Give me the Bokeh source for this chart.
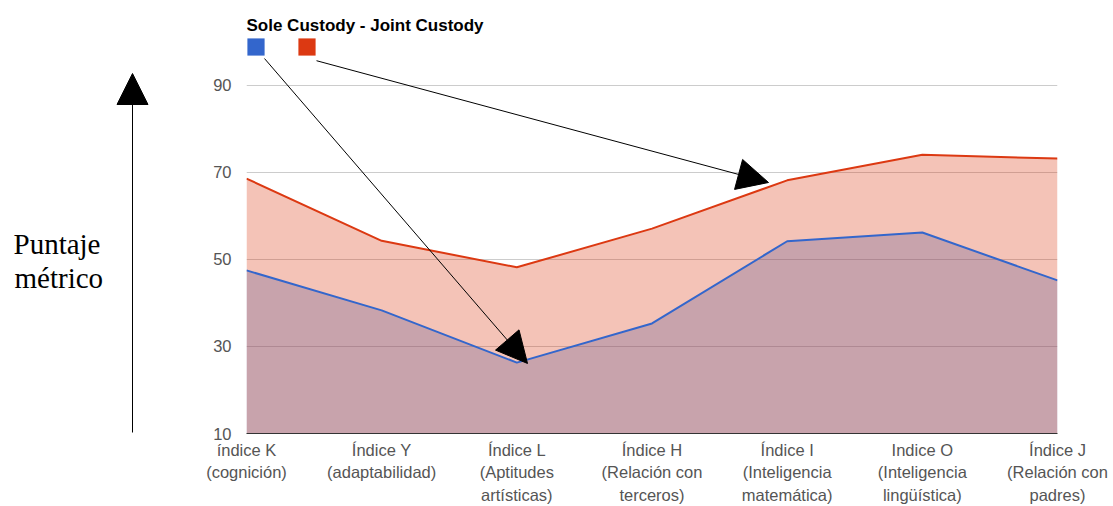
from bokeh.plotting import figure
from bokeh.layouts import row
from bokeh.models import Arrow, NormalHead, Label, Legend, LegendItem, FixedTicker, Range1d
from bokeh.embed import file_html
from bokeh.resources import INLINE

# ---- data ----
categories = [
    "índice K\n(cognición)",
    "Índice Y\n(adaptabilidad)",
    "Índice L\n(Aptitudes\nartísticas)",
    "Índice H\n(Relación con\nterceros)",
    "Índice I\n(Inteligencia\nmatemática)",
    "Indice O\n(Inteligencia\nlingüística)",
    "Índice J\n(Relación con\npadres)",
]
sole_custody = [47.5, 38.3, 26.3, 35.3, 54.2, 56.2, 45.2]
joint_custody = [68.6, 54.3, 48.2, 57.1, 68.2, 74.1, 73.2]
y_ticks = [10, 30, 50, 70, 90]
title_text = "Sole Custody - Joint Custody"
axis_title_lines = ["Puntaje", "métrico"]

BLUE = "#3366CC"
RED = "#DC3912"
xs = list(range(len(categories)))
baseline = y_ticks[0]

TOTAL_W, TOTAL_H = 1113, 506
LEFT_W = 160
FRAME_BOTTOM = 433

# ---------- left panel: axis caption + vertical arrow ----------
left = figure(width=LEFT_W, height=TOTAL_H, x_range=Range1d(0, LEFT_W), y_range=Range1d(FRAME_BOTTOM, 0),
              x_axis_type=None, y_axis_type=None, output_backend="svg", toolbar_location=None,
              min_border_left=0, min_border_right=0, min_border_top=0,
              min_border_bottom=TOTAL_H - FRAME_BOTTOM)
left.outline_line_color = None
left.grid.visible = False
left.add_layout(Label(x=13, y=243, text=axis_title_lines[0], text_font="Liberation Serif",
                      text_font_size="29px", text_color="black", text_baseline="alphabetic"))
left.add_layout(Label(x=14, y=277, text=axis_title_lines[1], text_font="Liberation Serif",
                      text_font_size="29px", text_color="black", text_baseline="alphabetic"))
left.add_layout(Arrow(end=NormalHead(size=31, fill_color="black", line_color="black"),
                      x_start=132, y_start=432, x_end=132, y_end=73,
                      line_color="black", line_width=1))

# ---------- main chart ----------
main_w = TOTAL_W - LEFT_W
p = figure(
    width=main_w, height=TOTAL_H,
    x_range=Range1d(0, len(categories) - 1), y_range=Range1d(y_ticks[0], 109.54),
    output_backend="svg", toolbar_location=None,
    min_border_left=246 - LEFT_W, min_border_right=TOTAL_W - 1057,
    min_border_top=0, min_border_bottom=TOTAL_H - FRAME_BOTTOM,
)
p.outline_line_color = None
p.background_fill_color = "white"
p.border_fill_color = "white"

p.xgrid.visible = False
p.ygrid.ticker = FixedTicker(ticks=y_ticks[1:])
p.ygrid.grid_line_color = "#cccccc"
p.ygrid.grid_line_width = 1

p.yaxis.ticker = FixedTicker(ticks=y_ticks)
p.yaxis.axis_line_color = None
p.yaxis.major_tick_line_color = None
p.yaxis.minor_tick_line_color = None
p.yaxis.major_tick_out = 0
p.yaxis.major_tick_in = 0
p.yaxis.major_label_standoff = 15
p.yaxis.axis_label_standoff = 0
p.yaxis.major_label_text_font = "Liberation Sans"
p.yaxis.major_label_text_font_size = "16.5px"
p.yaxis.major_label_text_color = "#555555"

p.xaxis.ticker = FixedTicker(ticks=xs)
p.xaxis.major_label_overrides = {i: c for i, c in enumerate(categories)}
p.xaxis.axis_line_color = "#333333"
p.xaxis.axis_line_width = 1
p.xaxis.major_tick_line_color = None
p.xaxis.minor_tick_line_color = None
p.xaxis.major_tick_out = 0
p.xaxis.major_tick_in = 0
p.xaxis.axis_label_standoff = 0
p.xaxis.major_label_standoff = 7
p.xaxis.major_label_text_font = "Liberation Sans"
p.xaxis.major_label_text_font_size = "16.5px"
p.xaxis.major_label_text_line_height = 1.25
p.xaxis.major_label_text_color = "#555555"

# areas and lines
p.varea(x=xs, y1=[baseline] * len(xs), y2=sole_custody, fill_color=BLUE, fill_alpha=0.3)
p.varea(x=xs, y1=[baseline] * len(xs), y2=joint_custody, fill_color=RED, fill_alpha=0.3)
p.line(xs, sole_custody, line_color=BLUE, line_width=2)
p.line(xs, joint_custody, line_color=RED, line_width=2)

# legend swatches (square markers of zero size in the plot; drawn only in the legend)
sw_b = p.scatter(xs, sole_custody, marker="square", size=0, fill_color=BLUE, line_color=None)
sw_r = p.scatter(xs, joint_custody, marker="square", size=0, fill_color=RED, line_color=None)
legend = Legend(
    items=[LegendItem(label=" ", renderers=[sw_b]), LegendItem(label=" ", renderers=[sw_r])],
    orientation="horizontal", location=(-12.5, 365),
    glyph_width=43, glyph_height=43, label_height=43, label_width=0, label_standoff=0,
    label_text_font_size="1px", spacing=8, padding=0, margin=0,
    border_line_color=None, background_fill_alpha=0,
)
p.add_layout(legend, "center")

# title
p.add_layout(Label(x=0, y=103.79, text=title_text, text_font="Liberation Sans",
                   text_font_size="17px", text_font_style="bold", text_color="black",
                   text_baseline="alphabetic"))

# arrows from legend swatches to points
def head():
    return NormalHead(size=31, fill_color="black", line_color="black", line_width=1)

p.add_layout(Arrow(end=head(), x_start=0.133, y_start=96.2, x_end=2.079, y_end=26.1,
                   line_color="black", line_width=1))
p.add_layout(Arrow(end=head(), x_start=0.518, y_start=95.7, x_end=3.862, y_end=67.7,
                   line_color="black", line_width=1))

layout = row(left, p)
open("out.html", "w").write(file_html(layout, INLINE))
